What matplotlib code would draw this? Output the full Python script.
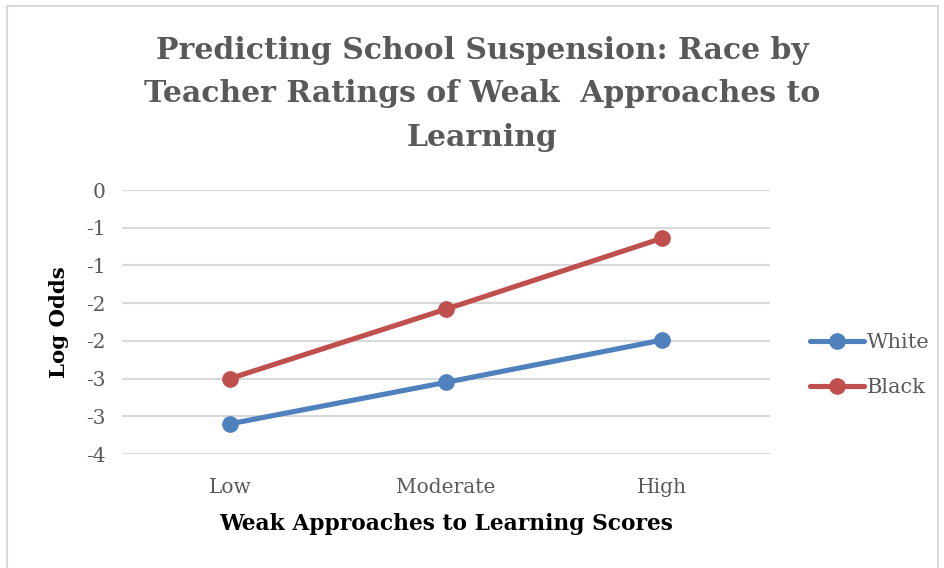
import matplotlib.pyplot as plt
from matplotlib.patches import Rectangle
from matplotlib.ticker import FixedLocator, FixedFormatter
import math

# Data
categories = ["Low", "Moderate", "High"]
white = [-3.10, -2.55, -1.99]
black = [-2.50, -1.58, -0.64]
y_ticks = [0, -0.5, -1, -1.5, -2, -2.5, -3, -3.5]


def excel_round(v):
    # Excel rounds half away from zero with a "0" number format
    r = math.floor(abs(v) + 0.5)
    return str(-r if v < 0 else r)


serif = ["DejaVu Serif"]
plt.rcParams["font.family"] = serif

fig = plt.figure(figsize=(9.44, 5.68), dpi=100)
W, H = 944, 568
ax = fig.add_axes([122 / W, 1 - 454 / H, (770 - 122) / W, (454 - 190) / H])

# chart border
fig.patches.append(Rectangle((7 / W, -0.05), (938 - 7) / W, 1 - 6 / H + 0.05,
                             transform=fig.transFigure, fill=False,
                             edgecolor="#D9D9D9", linewidth=1.5))

x = list(range(len(categories)))
ax.plot(x, white, color="#4F81BD", linewidth=3.7, marker="o", markersize=11,
        label="White", solid_capstyle="round")
ax.plot(x, black, color="#C0504D", linewidth=3.7, marker="o", markersize=11,
        label="Black", solid_capstyle="round")

ax.set_xlim(-0.5, 2.5)
ax.set_ylim(-3.5, 0)
ax.set_xticks(x)
ax.set_xticklabels(categories)
ax.yaxis.set_major_locator(FixedLocator(y_ticks))
ax.yaxis.set_major_formatter(FixedFormatter([excel_round(v) for v in y_ticks]))

ax.grid(axis="y", color="#D9D9D9", linewidth=1.5)
ax.set_axisbelow(True)
for s in ax.spines.values():
    s.set_visible(False)
ax.tick_params(axis="both", length=0, labelsize=14.5, labelcolor="#595959")
ax.tick_params(axis="y", pad=12)
ax.tick_params(axis="x", pad=17)

ax.set_xlabel("Weak Approaches to Learning Scores", fontsize=15.7,
              fontweight="bold", color="black", labelpad=12)
ax.set_ylabel("Log Odds", fontsize=15.3, fontweight="bold", color="black",
              labelpad=12)

fig.text(482 / W, 1 - 94 / H,
         "Predicting School Suspension: Race by\nTeacher Ratings of Weak  Approaches to\nLearning",
         ha="center", va="center", fontsize=21.5, fontweight="bold",
         color="#595959", linespacing=1.65)

leg = ax.legend(loc="center left", bbox_to_anchor=(1.033, 0.337), frameon=False,
                fontsize=15, labelcolor="#595959", handlelength=2.6,
                handletextpad=0.1, labelspacing=1.23)

fig.savefig("out.png", dpi=100)
